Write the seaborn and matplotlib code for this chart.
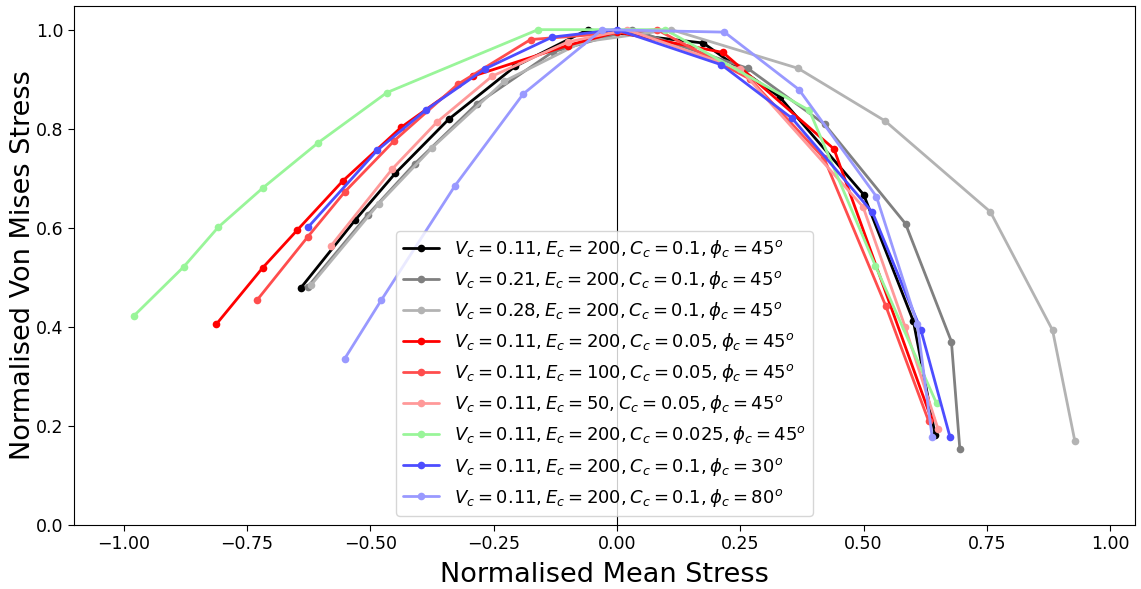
import matplotlib
matplotlib.use("Agg")
import matplotlib.pyplot as plt
import seaborn as sns
import pandas as pd

labels = [
    r"$V_c = 0.11, E_c = 200, C_c = 0.1, \phi_c = 45^o$",
    r"$V_c = 0.21, E_c = 200, C_c = 0.1, \phi_c = 45^o$",
    r"$V_c = 0.28, E_c = 200, C_c = 0.1, \phi_c = 45^o$",
    r"$V_c = 0.11, E_c = 200, C_c = 0.05, \phi_c = 45^o$",
    r"$V_c = 0.11, E_c = 100, C_c = 0.05, \phi_c = 45^o$",
    r"$V_c = 0.11, E_c = 50, C_c = 0.05, \phi_c = 45^o$",
    r"$V_c = 0.11, E_c = 200, C_c = 0.025, \phi_c = 45^o$",
    r"$V_c = 0.11, E_c = 200, C_c = 0.1, \phi_c = 30^o$",
    r"$V_c = 0.11, E_c = 200, C_c = 0.1, \phi_c = 80^o$",
]
colors = ["#000000", "#808080", "#b3b3b3", "#ff0000", "#ff4d4d",
          "#ff9999", "#99f599", "#4d4dff", "#9999ff"]

black_x = [-0.641, -0.530, -0.449, -0.341, -0.206, -0.059, 0.175, 0.330, 0.500, 0.601, 0.645]
black_y = [0.478, 0.616, 0.710, 0.819, 0.926, 1.000, 0.973, 0.864, 0.667, 0.411, 0.182]

gray_x = [-0.627, -0.505, -0.410, -0.284, -0.130, 0.031, 0.265, 0.421, 0.585, 0.678, 0.695]
gray_y = [0.480, 0.626, 0.729, 0.850, 0.955, 1.000, 0.922, 0.809, 0.608, 0.370, 0.154]

lgray_x = [-0.620, -0.483, -0.374, -0.228, -0.070, 0.110, 0.367, 0.543, 0.757, 0.883, 0.928]
lgray_y = [0.484, 0.648, 0.762, 0.896, 0.975, 1.000, 0.922, 0.816, 0.632, 0.393, 0.170]

red_x = [-0.812, -0.718, -0.648, -0.556, -0.437, -0.292, -0.100, 0.000, 0.215, 0.440, 0.637]
red_y = [0.405, 0.519, 0.595, 0.694, 0.803, 0.906, 0.968, 0.995, 0.954, 0.759, 0.215]

lred_x = [-0.730, -0.627, -0.551, -0.451, -0.322, -0.175, 0.081, 0.270, 0.420, 0.545, 0.632]
lred_y = [0.453, 0.581, 0.673, 0.776, 0.890, 0.980, 1.000, 0.900, 0.740, 0.442, 0.209]

pink_x = [-0.579, -0.455, -0.365, -0.253, -0.100, 0.020, 0.250, 0.499, 0.584, 0.651]
pink_y = [0.564, 0.719, 0.813, 0.906, 0.975, 1.000, 0.920, 0.642, 0.400, 0.193]

green_x = [-0.979, -0.878, -0.808, -0.718, -0.605, -0.466, -0.160, 0.098, 0.390, 0.524, 0.648]
green_y = [0.422, 0.521, 0.601, 0.680, 0.772, 0.873, 1.000, 1.000, 0.837, 0.523, 0.245]

blue_x = [-0.626, -0.486, -0.387, -0.267, -0.131, 0.000, 0.212, 0.355, 0.518, 0.616, 0.675]
blue_y = [0.601, 0.756, 0.838, 0.921, 0.985, 1.000, 0.929, 0.821, 0.631, 0.394, 0.178]

lblue_x = [-0.552, -0.478, -0.328, -0.190, -0.030, 0.218, 0.369, 0.526, 0.609, 0.639]
lblue_y = [0.335, 0.453, 0.685, 0.870, 1.000, 0.995, 0.879, 0.663, 0.405, 0.177]

series_x = [black_x, gray_x, lgray_x, red_x, lred_x, pink_x, green_x, blue_x, lblue_x]
series_y = [black_y, gray_y, lgray_y, red_y, lred_y, pink_y, green_y, blue_y, lblue_y]

rows = []
for lab, xs, ys in zip(labels, series_x, series_y):
    for i, (xv, yv) in enumerate(zip(xs, ys)):
        rows.append({"series": lab, "order": i, "x": xv, "y": yv})
df = pd.DataFrame(rows)

sns.set_style("ticks")
plt.rcParams["font.family"] = ["DejaVu Sans"]
plt.rcParams["mathtext.fontset"] = "dejavusans"
for k in ["text.color", "axes.labelcolor", "xtick.color", "ytick.color", "axes.edgecolor"]:
    plt.rcParams[k] = "black"

fig = plt.figure(figsize=(11.41, 5.89), dpi=100)
ax = fig.add_axes([0.065, 0.109, 0.9297, 0.881])

ax.axvline(0, color="black", lw=0.8, zorder=0)

sns.lineplot(data=df, x="x", y="y", hue="series", hue_order=labels,
             palette=colors, sort=False, estimator=None, marker="o",
             markersize=5.5, markeredgewidth=0, linewidth=2, ax=ax)

ax.set_xlim(-1.10, 1.05)
ax.set_ylim(0, 1.048)
ax.set_xticks([-1.0, -0.75, -0.5, -0.25, 0.0, 0.25, 0.5, 0.75, 1.0])
ax.set_xticklabels(["\u22121.00", "\u22120.75", "\u22120.50", "\u22120.25", "0.00",
                    "0.25", "0.50", "0.75", "1.00"])
ax.set_yticks([0.0, 0.2, 0.4, 0.6, 0.8, 1.0])
ax.tick_params(labelsize=12.5, colors="black", length=4, width=0.8)
ax.set_xlabel("Normalised Mean Stress", fontsize=19.5, color="black", labelpad=6)
ax.set_ylabel("Normalised Von Mises Stress", fontsize=19.5, color="black", labelpad=0)
for s in ax.spines.values():
    s.set_visible(True)
    s.set_color("black")
    s.set_linewidth(0.8)

handles, labs = ax.get_legend_handles_labels()
leg = ax.legend(handles, labs, loc="lower center", fontsize=13, framealpha=0.8)
for t in leg.get_texts():
    t.set_color("black")

fig.savefig("out.png", dpi=100)
